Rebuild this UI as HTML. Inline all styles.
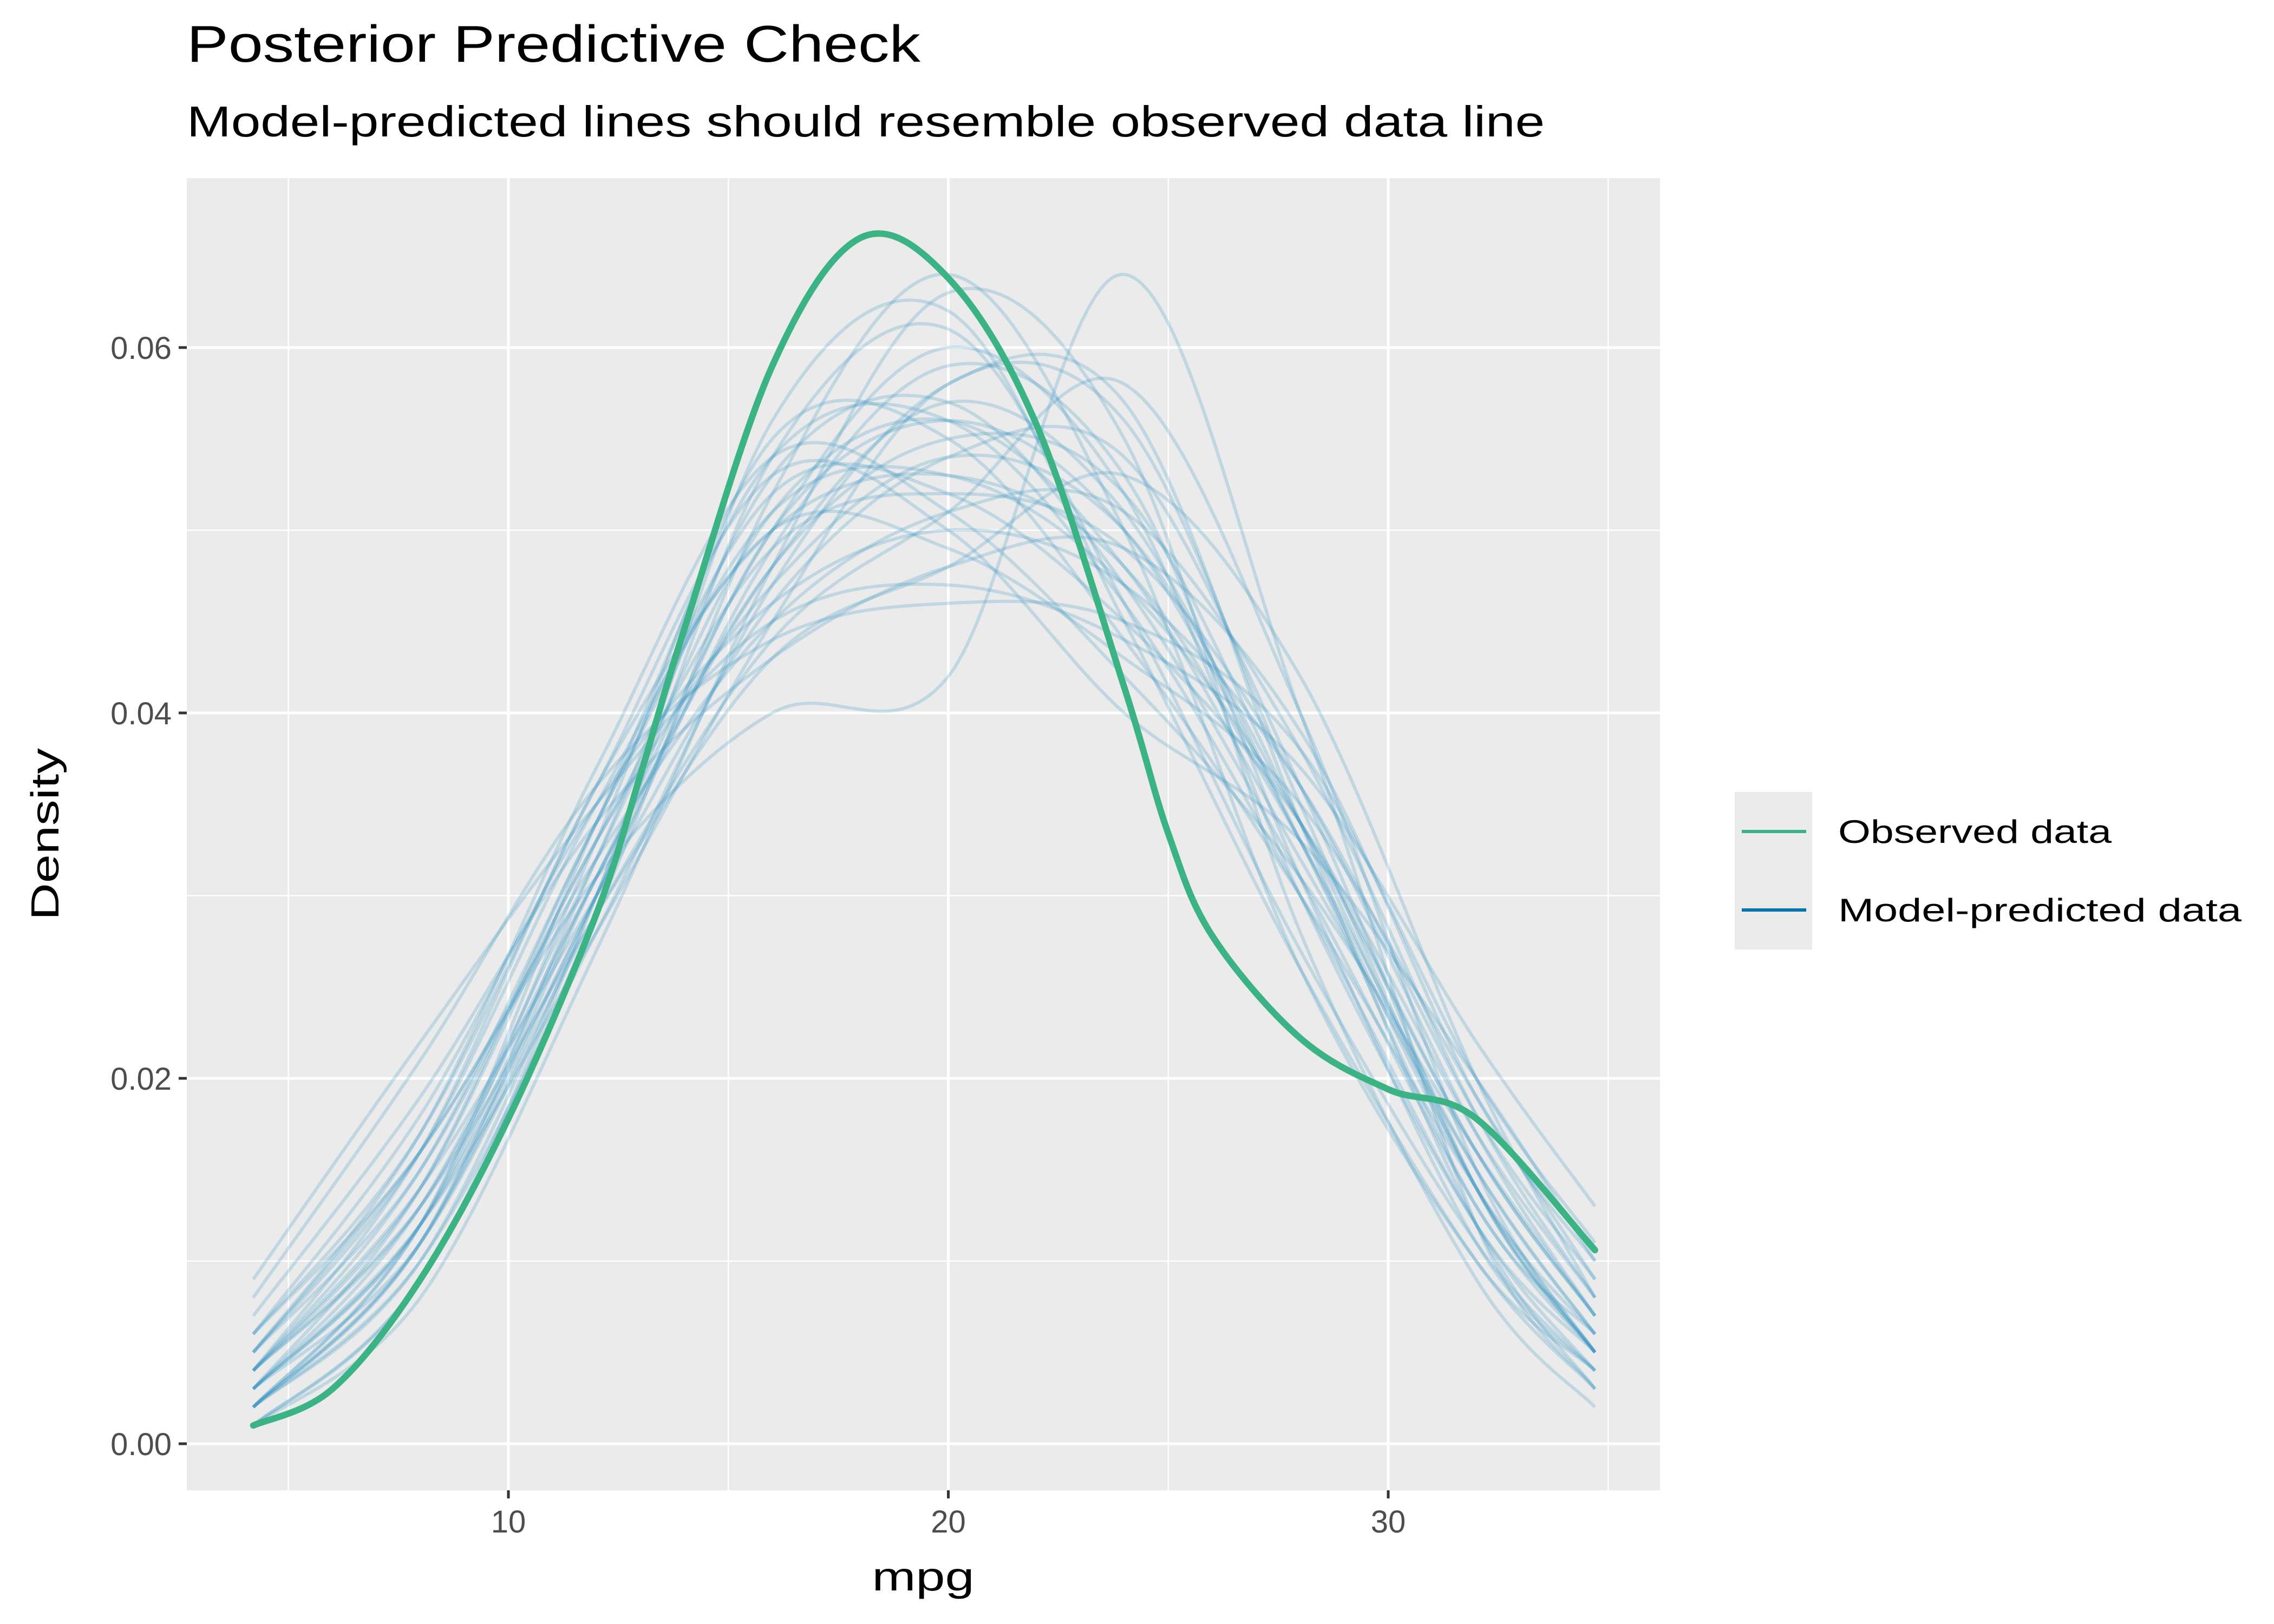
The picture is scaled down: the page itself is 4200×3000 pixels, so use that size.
<!DOCTYPE html>
<html><head><meta charset="utf-8"><style>
html,body{margin:0;padding:0;background:#fff}
svg{display:block;font-family:"Liberation Sans",sans-serif}
</style></head><body>
<svg id="chart" width="4200" height="3000" viewBox="0 0 4200 3000">
<rect x="345" y="329" width="2721" height="2424" fill="#ebebeb"/>
<g id="grid"></g>
<g id="series"></g>
<g id="axes"></g>
<text x="345" y="114" font-size="96" fill="#000" textLength="1355" lengthAdjust="spacingAndGlyphs">Posterior Predictive Check</text>
<text x="345" y="252" font-size="80" fill="#000" textLength="2508" lengthAdjust="spacingAndGlyphs">Model-predicted lines should resemble observed data line</text>
<text x="1705" y="2938" font-size="74" text-anchor="middle" fill="#000" textLength="189" lengthAdjust="spacingAndGlyphs">mpg</text>
<text x="0" y="0" font-size="72" text-anchor="middle" fill="#000" textLength="318" lengthAdjust="spacingAndGlyphs" transform="translate(108,1541) rotate(-90)">Density</text>
<g>
<rect x="3204" y="1463" width="143" height="291" fill="#ebebeb"/>
<line x1="3217" y1="1536" x2="3336" y2="1536" stroke="#3CB385" stroke-width="6"/>
<line x1="3217" y1="1681" x2="3336" y2="1681" stroke="#0072B2" stroke-width="6"/>
<text x="3395" y="1557" font-size="60" textLength="505" lengthAdjust="spacingAndGlyphs">Observed data</text>
<text x="3395" y="1702" font-size="60" textLength="745" lengthAdjust="spacingAndGlyphs">Model-predicted data</text>
</g>
</svg>
<script>
const xGrid = [4.2, 8, 12, 16, 20, 24, 28, 32, 34.7];
const observedX = [4.2, 6, 8, 10, 12, 13, 14, 16, 18, 20, 22, 24, 25, 26, 28, 30, 32, 34.7];
const observedY = [0.001, 0.003, 0.009, 0.0178, 0.029, 0.0366, 0.0446, 0.059, 0.066, 0.0638, 0.0558, 0.0414, 0.0334, 0.0278, 0.0222, 0.0194, 0.0178, 0.0106];
const predicted = [
 [0.002,0.011,0.031,0.050,0.060,0.052,0.030,0.012,0.005],
 [0.004,0.014,0.033,0.047,0.054,0.050,0.034,0.016,0.007],
 [0.006,0.018,0.035,0.046,0.050,0.047,0.036,0.018,0.009],
 [0.001,0.009,0.029,0.052,0.064,0.050,0.026,0.010,0.004],
 [0.003,0.013,0.032,0.051,0.056,0.048,0.032,0.015,0.006],
 [0.008,0.021,0.036,0.044,0.046,0.045,0.038,0.020,0.011],
 [0.002,0.012,0.033,0.055,0.055,0.044,0.030,0.014,0.005],
 [0.005,0.016,0.031,0.040,0.042,0.064,0.040,0.012,0.003],
 [0.003,0.012,0.028,0.045,0.058,0.056,0.035,0.014,0.005],
 [0.004,0.015,0.034,0.052,0.052,0.045,0.034,0.017,0.008],
 [0.002,0.010,0.030,0.054,0.061,0.046,0.027,0.011,0.004],
 [0.007,0.019,0.034,0.043,0.048,0.049,0.039,0.019,0.010],
 [0.001,0.008,0.027,0.048,0.063,0.055,0.028,0.009,0.002],
 [0.005,0.016,0.035,0.050,0.049,0.043,0.035,0.019,0.009],
 [0.003,0.011,0.029,0.044,0.051,0.058,0.040,0.015,0.005],
 [0.004,0.013,0.031,0.048,0.057,0.051,0.033,0.013,0.006],
 [0.006,0.017,0.036,0.053,0.050,0.040,0.033,0.020,0.010],
 [0.002,0.011,0.030,0.049,0.059,0.053,0.031,0.011,0.004],
 [0.003,0.014,0.034,0.051,0.053,0.047,0.034,0.016,0.007],
 [0.009,0.022,0.035,0.045,0.047,0.044,0.037,0.022,0.013],
 [0.002,0.010,0.028,0.047,0.058,0.057,0.034,0.012,0.003],
 [0.004,0.014,0.030,0.046,0.054,0.054,0.036,0.014,0.005],
 [0.005,0.015,0.033,0.049,0.052,0.049,0.036,0.017,0.007],
 [0.001,0.009,0.030,0.056,0.062,0.045,0.026,0.010,0.003],
 [0.003,0.012,0.030,0.050,0.056,0.050,0.033,0.014,0.006],
 [0.006,0.016,0.032,0.045,0.051,0.051,0.038,0.018,0.008],
 [0.002,0.011,0.032,0.053,0.057,0.047,0.031,0.013,0.005],
 [0.004,0.013,0.029,0.043,0.048,0.053,0.042,0.020,0.008],
 [0.003,0.012,0.031,0.048,0.055,0.052,0.034,0.014,0.005],
 [0.005,0.017,0.037,0.054,0.051,0.042,0.031,0.016,0.007],
 [0.002,0.012,0.034,0.054,0.056,0.046,0.030,0.012,0.004],
 [0.004,0.016,0.036,0.050,0.053,0.048,0.033,0.015,0.006]
];
const xTicks = [10, 20, 30];
const xMinor = [5, 15, 25, 35];
const yTicks = [0, 0.02, 0.04, 0.06];
const yMinor = [0.01, 0.03, 0.05];
const yTickLabels = ["0.00", "0.02", "0.04", "0.06"];

const NS = "http://www.w3.org/2000/svg";
const X = v => 939 + (v - 10) * 81.25;
const Y = v => 2667 - v * 33750;
const PX0 = 345, PX1 = 3066, PY0 = 329, PY1 = 2753;

function mk(tag, attrs, parent) {
  const e = document.createElementNS(NS, tag);
  for (const k in attrs) e.setAttribute(k, attrs[k]);
  parent.appendChild(e);
  return e;
}
function smoothPath(xs, ys) {
  const p = xs.map((x, i) => [X(x), Y(ys[i])]);
  let d = "M" + p[0][0] + "," + p[0][1];
  for (let i = 0; i < p.length - 1; i++) {
    const p0 = p[Math.max(0, i - 1)], p1 = p[i], p2 = p[i + 1], p3 = p[Math.min(p.length - 1, i + 2)];
    const c1x = p1[0] + (p2[0] - p0[0]) / 6, c1y = p1[1] + (p2[1] - p0[1]) / 6;
    const c2x = p2[0] - (p3[0] - p1[0]) / 6, c2y = p2[1] - (p3[1] - p1[1]) / 6;
    d += " C" + c1x + "," + c1y + " " + c2x + "," + c2y + " " + p2[0] + "," + p2[1];
  }
  return d;
}
const grid = document.getElementById("grid");
xMinor.forEach(v => {
  const l = mk("line", {x1: X(v), x2: X(v), y1: PY0, y2: PY1, stroke: "#fff", "stroke-width": 2.5}, grid);
  
  
});
yMinor.forEach(v => {
  const l = mk("line", {x1: PX0, x2: PX1, y1: Y(v), y2: Y(v), stroke: "#fff", "stroke-width": 2.5}, grid);
  
  
});
xTicks.forEach(v => {
  const l = mk("line", {x1: X(v), x2: X(v), y1: PY0, y2: PY1, stroke: "#fff", "stroke-width": 5}, grid);
  
  
});
yTicks.forEach(v => {
  const l = mk("line", {x1: PX0, x2: PX1, y1: Y(v), y2: Y(v), stroke: "#fff", "stroke-width": 5}, grid);
  
  
});
const series = document.getElementById("series");
predicted.forEach(ys => {
  const p = mk("path", {d: smoothPath(xGrid, ys), fill: "none", stroke: "#2a8bbf", "stroke-opacity": 0.22, "stroke-width": 6}, series);
  
  
});
const obs = mk("path", {d: smoothPath(observedX, observedY), fill: "none", stroke: "#3CB385", "stroke-width": 12, "stroke-linecap": "round"}, series);



const axes = document.getElementById("axes");
xTicks.forEach(v => {
  const t = mk("line", {x1: X(v), x2: X(v), y1: PY1, y2: PY1 + 15, stroke: "#333", "stroke-width": 5}, axes);
  
  
  const tx = mk("text", {x: X(v), y: PY1 + 78, "font-size": 58, fill: "#4d4d4d", "text-anchor": "middle"}, axes);
  tx.textContent = String(v);
  
  
});
yTicks.forEach((v, i) => {
  const t = mk("line", {x1: PX0 - 15, x2: PX0, y1: Y(v), y2: Y(v), stroke: "#333", "stroke-width": 5}, axes);
  
  
  const tx = mk("text", {x: PX0 - 28, y: Y(v) + 21, "font-size": 58, fill: "#4d4d4d", "text-anchor": "end"}, axes);
  tx.textContent = yTickLabels[i];
  
  
});
</script>
</body></html>
